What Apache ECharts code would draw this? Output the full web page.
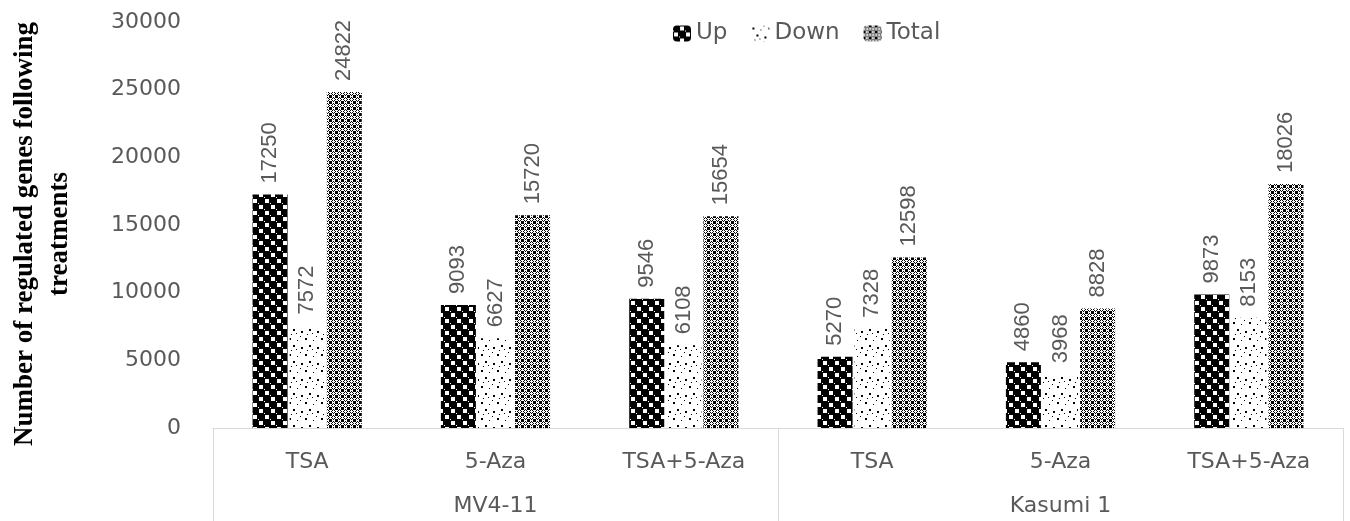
<!DOCTYPE html>
<html>
<head>
<meta charset="utf-8">
<script src="https://cdn.jsdelivr.net/npm/echarts@6/dist/echarts.min.js"></script>
<style>
  html, body { margin: 0; padding: 0; background: #fff; }
  #chart { width: 1350px; height: 521px; }
</style>
</head>
<body>
<div id="chart"></div>
<script>
// Treatments within each cell line (inner category row)
const treatments = ['TSA', '5-Aza', 'TSA+5-Aza', 'TSA', '5-Aza', 'TSA+5-Aza'];
// Cell lines (outer category row)
const cellLines = ['MV4-11', 'Kasumi 1'];
// Number of regulated genes per treatment
const upGenes    = [17250, 9093, 9546, 5270, 4860, 9873];
const downGenes  = [7572, 6627, 6108, 7328, 3968, 8153];
const totalGenes = [24822, 15720, 15654, 12598, 8828, 18026];
// Y axis range
const yMin = 0, yMax = 30000, yStep = 5000;

// Monochrome fill patterns, one per series
function tile(size, draw) {
  const c = document.createElement('canvas');
  c.width = size; c.height = size;
  const g = c.getContext('2d');
  g.fillStyle = '#fff';
  g.fillRect(0, 0, size, size);
  g.fillStyle = '#000';
  draw(g);
  return c;
}
function px(g, pts) { pts.forEach(p => g.fillRect(p[0], p[1], 1, 1)); }

// Up: dense black blocks with staggered white holes
const upPattern = tile(12, g => {
  g.fillRect(0, 0, 12, 12);
  g.fillStyle = '#fff';
  g.fillRect(7, 1, 4, 4);
  g.fillRect(1, 7, 4, 4);
  g.fillRect(0, 5, 1, 1);
  g.fillRect(6, 11, 1, 1);
});
// Down: sparse scattered dots
const downPattern = tile(16, g => {
  g.fillRect(1, 2, 2, 2);
  g.fillRect(9, 4, 1, 1);
  g.fillRect(5, 9, 2, 2);
  g.fillRect(13, 11, 2, 2);
  g.fillRect(3, 14, 1, 1);
  g.fillRect(12, 0, 1, 1);
  g.fillRect(8, 13, 1, 1);
});
// Total: fine diamond lattice of rings
const totalPattern = tile(6, g => {
  px(g, [[3, 1], [2, 2], [4, 2], [1, 3], [5, 3], [2, 4], [4, 4], [3, 5],
         [0, 0], [1, 0], [5, 0], [0, 1], [0, 5],
         [1, 1], [5, 5], [1, 5], [5, 1]]);
});

const labelColor = '#595959';
const sansFont = 'DejaVu Sans';

function barSeries(name, data, pattern) {
  return {
    name: name,
    type: 'bar',
    data: data,
    barWidth: 35,
    barGap: '6%',
    itemStyle: { color: { image: pattern, repeat: 'repeat' } },
    label: {
      show: true,
      position: 'top',
      rotate: 90,
      align: 'left',
      verticalAlign: 'middle',
      distance: 11,
      color: labelColor,
      fontFamily: 'Liberation Sans',
      fontSize: 22
    }
  };
}

const chart = echarts.init(document.getElementById('chart'), null, { renderer: 'canvas' });
chart.setOption({
  animation: false,
  backgroundColor: '#fff',
  legend: {
    left: 668,
    top: 17,
    itemWidth: 18,
    itemHeight: 16,
    itemGap: 24,
    textStyle: { color: labelColor, fontFamily: sansFont, fontSize: 23 },
    data: ['Up', 'Down', 'Total']
  },
  grid: { left: 210, right: 7, top: 22, bottom: 93, containLabel: false },
  xAxis: [
    {
      type: 'category',
      data: treatments,
      position: 'bottom',
      axisLine: { show: true, lineStyle: { color: '#d9d9d9', width: 1 } },
      axisTick: { show: false },
      axisLabel: { color: labelColor, fontFamily: sansFont, fontSize: 22, margin: 23, interval: 0 }
    },
    {
      type: 'category',
      data: cellLines,
      position: 'bottom',
      axisLine: { show: false },
      axisTick: { show: true, length: 93, interval: 0, lineStyle: { color: '#d9d9d9', width: 1 } },
      axisLabel: { color: labelColor, fontFamily: sansFont, fontSize: 22, margin: 67, interval: 0 }
    }
  ],
  yAxis: {
    type: 'value',
    min: yMin,
    max: yMax,
    interval: yStep,
    axisLine: { show: false },
    axisTick: { show: false },
    splitLine: { show: false },
    axisLabel: {
      color: labelColor, fontFamily: sansFont, fontSize: 22, margin: 32,
      formatter: v => String(v)
    },
    name: 'Number of regulated genes following\ntreatments',
    nameLocation: 'middle',
    nameRotate: 90,
    nameGap: 135,
    nameTextStyle: {
      color: '#000',
      fontFamily: 'Liberation Serif',
      fontWeight: 'bold',
      fontSize: 27,
      lineHeight: 35,
      padding: [0, 18, 0, 0]
    }
  },
  series: [
    barSeries('Up', upGenes, upPattern),
    barSeries('Down', downGenes, downPattern),
    barSeries('Total', totalGenes, totalPattern)
  ]
});
</script>
</body>
</html>
